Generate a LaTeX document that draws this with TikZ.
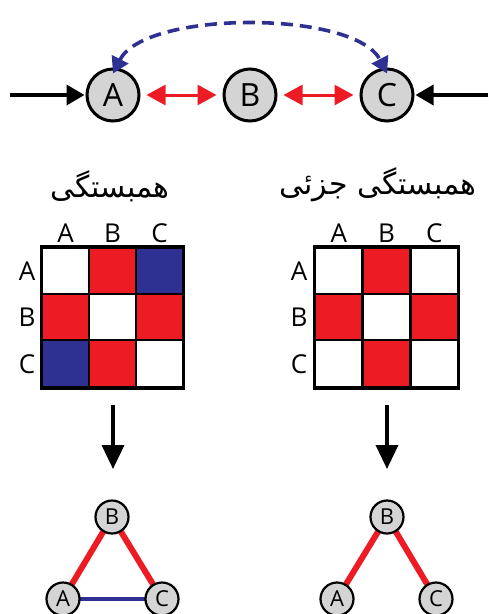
\documentclass[tikz,border=0pt]{standalone}
\usepackage{fontspec}
\setmainfont{Open Sans}
\newfontfamily\arabicfont[Script=Arabic]{DejaVu Sans}
\TeXXeTstate=1
\usetikzlibrary{arrows.meta}
\definecolor{myred}{HTML}{ED1C24}
\definecolor{myblue}{HTML}{2E3192}
\definecolor{mygray}{HTML}{D4D4D4}
\begin{document}
\begin{tikzpicture}[x=1pt,y=-1pt,
  bignode/.style={circle,draw=black,line width=3pt,fill=mygray,minimum size=52pt,inner sep=0pt,font=\fontsize{32}{34}\selectfont},
  smallnode/.style={circle,draw=black,line width=2.2pt,fill=mygray,minimum size=33pt,inner sep=0pt,font=\fontsize{22}{24}\selectfont},
  blackarrow/.style={line width=3.6pt,-{Triangle[length=18pt,width=20pt]}},
  redarrow/.style={myred,line width=3pt,{Triangle[length=19pt,width=20pt]}-{Triangle[length=19pt,width=20pt]}},
  bluearrow/.style={myblue,line width=3.6pt,dash pattern=on 12pt off 7pt,{Triangle[length=16pt,width=18pt]}-{Triangle[length=16pt,width=18pt]}},
  downarrow/.style={line width=3.6pt,-{Triangle[length=24pt,width=22pt]}},
  lbl/.style={font=\fontsize{26}{28}\selectfont},
  title/.style={font=\arabicfont\fontsize{30}{36}\selectfont},
  cell/.style={draw=black,line width=2pt,minimum size=47pt,inner sep=0pt},
  rededge/.style={myred,line width=6pt},
  blueedge/.style={myblue,line width=3.6pt}]
\useasboundingbox (0,0) rectangle (488,614);
% top row
\node[bignode] (A) at (113,95) {A};
\node[bignode] (B) at (250,95) {B};
\node[bignode] (C) at (387,95) {C};
\coordinate (Lin) at (10,95);
\coordinate (Rin) at (488,95);
\draw[blackarrow] (Lin) -- ([xshift=-1pt]A.west);
\draw[blackarrow] (Rin) -- ([xshift=1pt]C.east);
\draw[redarrow] ([xshift=6pt]A.east) -- ([xshift=-6pt]B.west);
\draw[redarrow] ([xshift=6pt]B.east) -- ([xshift=-6pt]C.west);
\draw[bluearrow] ([yshift=-6pt]A.north) .. controls (145,10) and (355,10) .. ([yshift=-6pt]C.north);
% titles
\node[title] (T1) at (110,186) {\beginR همبستگی\endR};
\node[title] (T2) at (378,185) {\beginR همبستگی جزئی\endR};
% left matrix
\foreach \r/\c/\col in {1/1/white,1/2/myred,1/3/myblue,2/1/myred,2/2/white,2/3/myred,3/1/myblue,3/2/myred,3/3/white}{
  \node[cell,fill=\col] (L\r\c) at ({42+47*(\c-0.5)},{248+46.3*(\r-0.5)}) {};
}
\foreach \r/\c/\col in {1/1/white,1/2/myred,1/3/white,2/1/myred,2/2/white,2/3/myred,3/1/white,3/2/myred,3/3/white}{
  \node[cell,fill=\col] (R\r\c) at ({315+47.7*(\c-0.5)},{248+46.3*(\r-0.5)}) {};
}
\draw[line width=2.6pt] (L11.north west) rectangle (L33.south east);
\draw[line width=2.6pt] (R11.north west) rectangle (R33.south east);
\foreach \c/\t in {1/A,2/B,3/C}{
  \node[lbl] (LC\c) at ({42+47*(\c-0.5)},233) {\t};
  \node[lbl] (LR\c) at (27,{248+46.3*(\c-0.5)}) {\t};
  \node[lbl] (RC\c) at ({315+47.7*(\c-0.5)},233) {\t};
  \node[lbl] (RR\c) at (299,{248+46.3*(\c-0.5)}) {\t};
}
% down arrows
\coordinate (D1s) at (113,405);
\coordinate (D1e) at (113,469);
\coordinate (D2s) at (387,405);
\coordinate (D2e) at (387,469);
\draw[downarrow] (D1s) -- (D1e);
\draw[downarrow] (D2s) -- (D2e);
% bottom graph edges under nodes
\coordinate (pA1) at (63,599);
\coordinate (pB1) at (112,517);
\coordinate (pC1) at (162,599);
\coordinate (pA2) at (337,599);
\coordinate (pB2) at (387,517);
\coordinate (pC2) at (436,599);
\draw[rededge] (pB1) -- (pA1);
\draw[rededge] (pB1) -- (pC1);
\draw[blueedge] (pA1) -- (pC1);
\draw[rededge] (pB2) -- (pA2);
\draw[rededge] (pB2) -- (pC2);
\node[smallnode] (gA1) at (pA1) {A};
\node[smallnode] (gB1) at (pB1) {B};
\node[smallnode] (gC1) at (pC1) {C};
\node[smallnode] (gA2) at (pA2) {A};
\node[smallnode] (gB2) at (pB2) {B};
\node[smallnode] (gC2) at (pC2) {C};
\end{tikzpicture}
\end{document}
